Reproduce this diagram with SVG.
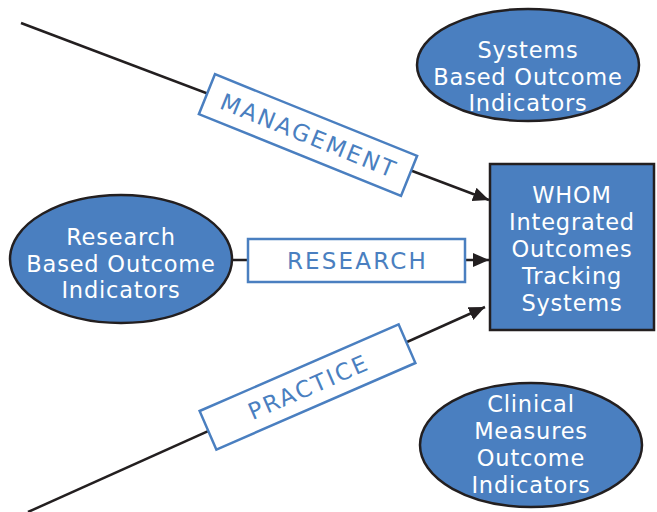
<svg xmlns="http://www.w3.org/2000/svg" width="657" height="512" viewBox="0 0 657 512">
  <style>
    .node { fill: #4a7fc0; stroke: #231f20; stroke-width: 2.5; }
    .ntext { fill: #ffffff; font-family: "DejaVu Sans", "Liberation Sans", sans-serif; font-size: 22.5px; text-anchor: middle; letter-spacing: 0.8px; }
    .edge { stroke: #231f20; stroke-width: 2.5; fill: none; }
    .lbox { fill: #ffffff; stroke: #4a7fc0; stroke-width: 2.5; }
    .ltext { fill: #4a7fc0; font-family: "DejaVu Sans", "Liberation Sans", sans-serif; font-size: 23px; text-anchor: middle; letter-spacing: 2.2px; }
  </style>
  <defs>
    <marker id="arrow" markerUnits="userSpaceOnUse" markerWidth="18" markerHeight="16" refX="16" refY="7" orient="auto">
      <path d="M0,0 L16,7 L0,14 Z" fill="#231f20"/>
    </marker>
  </defs>

  <rect width="657" height="512" fill="#ffffff"/>

  <!-- connectors -->
  <g id="connectors">
    <line class="edge" x1="21" y1="23" x2="489" y2="200" marker-end="url(#arrow)"/>
    <line class="edge" x1="232" y1="260" x2="489" y2="260" marker-end="url(#arrow)"/>
    <line class="edge" x1="28" y1="512" x2="485" y2="307" marker-end="url(#arrow)"/>

    <g id="label-management" transform="translate(308,135) rotate(22)">
      <rect class="lbox" x="-109" y="-21.5" width="218" height="43"/>
      <text class="ltext" x="1" y="8.5">MANAGEMENT</text>
    </g>
    <g id="label-research">
      <rect class="lbox" x="248" y="239" width="217" height="43"/>
      <text class="ltext" x="357.5" y="269">RESEARCH</text>
    </g>
    <g id="label-practice" transform="translate(307.5,387) rotate(-23.5)">
      <rect class="lbox" x="-108.5" y="-21" width="217" height="42"/>
      <text class="ltext" x="1" y="8.5">PRACTICE</text>
    </g>
  </g>

  <!-- nodes -->
  <g id="systems">
    <ellipse class="node" cx="528" cy="65" rx="111" ry="56"/>
    <text class="ntext" x="528" y="58">Systems</text>
    <text class="ntext" x="528" y="85">Based Outcome</text>
    <text class="ntext" x="528" y="111">Indicators</text>
  </g>

  <g id="research">
    <ellipse class="node" cx="121" cy="259" rx="111" ry="64"/>
    <text class="ntext" x="121" y="245">Research</text>
    <text class="ntext" x="121" y="272">Based Outcome</text>
    <text class="ntext" x="121" y="298">Indicators</text>
  </g>

  <g id="whom">
    <rect class="node" x="490" y="164" width="164" height="166" stroke-width="3"/>
    <text class="ntext" x="572" y="203">WHOM</text>
    <text class="ntext" x="572" y="230">Integrated</text>
    <text class="ntext" x="572" y="257">Outcomes</text>
    <text class="ntext" x="572" y="284">Tracking</text>
    <text class="ntext" x="572" y="311">Systems</text>
  </g>

  <g id="clinical">
    <ellipse class="node" cx="531" cy="445" rx="111" ry="62"/>
    <text class="ntext" x="531" y="412">Clinical</text>
    <text class="ntext" x="531" y="439">Measures</text>
    <text class="ntext" x="531" y="466">Outcome</text>
    <text class="ntext" x="531" y="493">Indicators</text>
  </g>
</svg>
